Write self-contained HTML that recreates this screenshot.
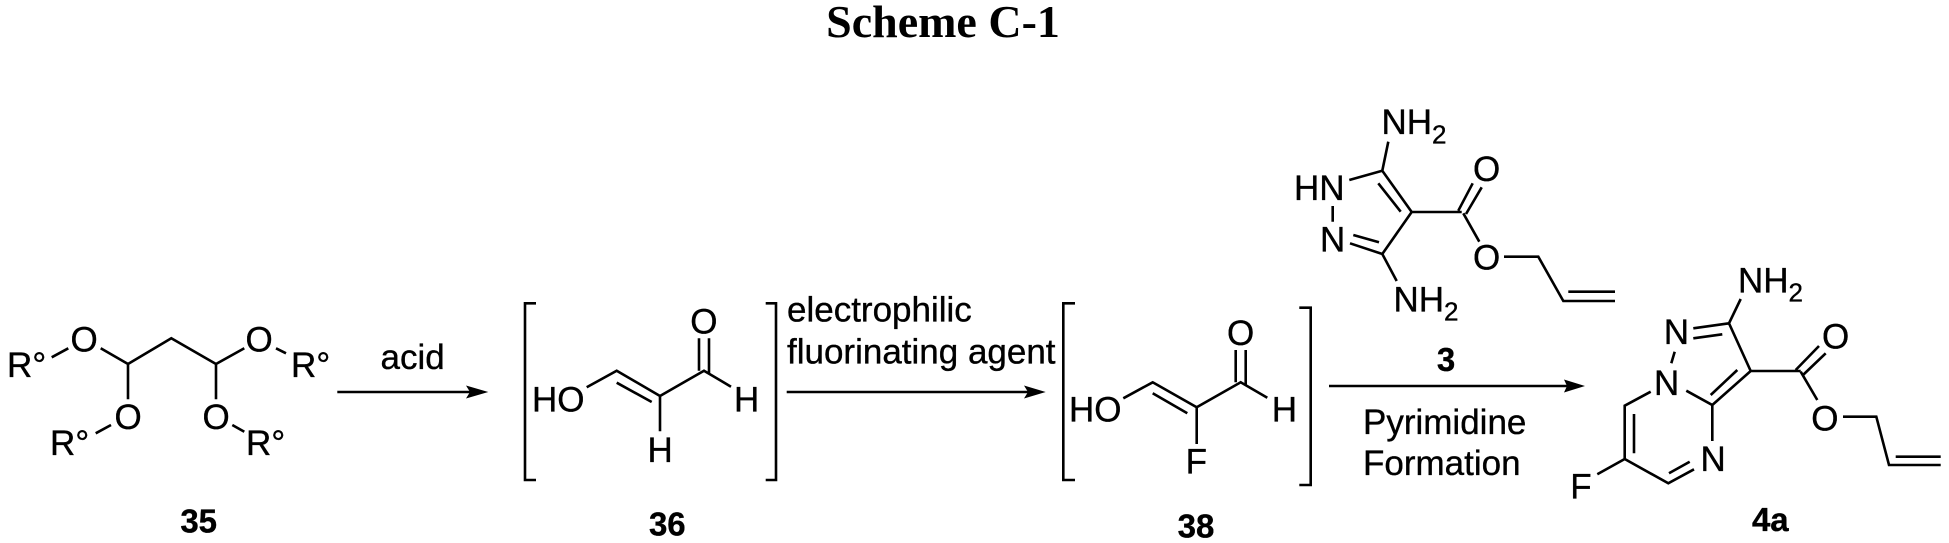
<!DOCTYPE html>
<html><head><meta charset="utf-8"><style>
html,body{margin:0;padding:0;background:#fff}
svg{display:block}
text{font-family:"Liberation Sans",sans-serif;font-size:35px;fill:#000;stroke:#000;stroke-width:.35px}
.b{font-weight:bold;font-size:33px;text-anchor:middle}
.s{font-size:26px}
.t{font-family:"Liberation Serif",serif;font-weight:bold;font-size:46px;text-anchor:middle;stroke-width:0}
path{fill:none;stroke:#000;stroke-width:2.6;stroke-linejoin:miter}
.a{fill:#000;stroke:none}
</style></head><body>
<svg width="1949" height="543" viewBox="0 0 1949 543" xmlns="http://www.w3.org/2000/svg">
<rect width="1949" height="543" fill="#fff"/>
<text class="t" x="943" y="37">Scheme C-1</text>

<!-- 35 -->
<path d="M51.7 357.3L68.3 348.3M100.7 348.3L128 364L171.3 338.3L216 364L244.3 348.3M276 348.3L286 353.3M128 364V399.3M216 364V399.3M95.7 433.3L111 425M232.3 425L244.3 431.7"/>
<text x="7" y="377">R°</text>
<text x="70.5" y="351.5">O</text>
<text x="245.5" y="351.5">O</text>
<text x="291" y="377">R°</text>
<text x="114.5" y="429">O</text>
<text x="202.5" y="429">O</text>
<text x="50" y="455">R°</text>
<text x="246" y="455">R°</text>
<text class="b" x="198.7" y="532.5">35</text>

<!-- arrow 1 -->
<text x="380.5" y="369">acid</text>
<path d="M337.3 392H470"/>
<polygon class="a" points="466,385.5 488.3,392 466,398.5 470,392"/>

<!-- 36 -->
<path d="M536 303.3H525V480H536M765.7 303.3H776V480H765.7"/>
<text x="532" y="411.3">HO</text>
<path d="M586.7 387.3L616.7 370.7L660 396L704 370.7L731 386.7M616.7 382.7L651.7 402M660 396V431.3M699 338.3V370.7M709 338.3V373"/>
<text x="647.5" y="462">H</text>
<text x="690.3" y="333.5">O</text>
<text x="734" y="411.3">H</text>
<text class="b" x="667.3" y="535.5">36</text>

<!-- arrow 2 -->
<text x="787" y="321.7">electrophilic</text>
<text x="787" y="363.3">fluorinating agent</text>
<path d="M786.7 392H1028"/>
<polygon class="a" points="1024,385.5 1045.7,392 1024,398.5 1028,392"/>

<!-- 38 -->
<path d="M1075 303.3H1063.3V480H1075M1299.3 307.7H1310.7V485H1299.3"/>
<text x="1069" y="421.7">HO</text>
<path d="M1123.3 398.3L1152.7 382.3L1196.7 407.3L1240.7 382.3L1267.3 397.7M1152.7 393.3L1187.3 413.3M1196.7 407.3V444M1235.7 350V382.3M1245.7 350V385"/>
<text x="1185.6" y="473.3">F</text>
<text x="1227" y="345.2">O</text>
<text x="1271.7" y="421.7">H</text>
<text class="b" x="1196" y="537.5">38</text>

<!-- 3 -->
<text x="1381.5" y="134">NH</text><text class="s" x="1432" y="143.3">2</text>
<path d="M1388.3 141.7L1382.3 170.7L1349.3 180M1382.3 170.7L1411.7 212L1382.3 254L1350 243.3M1378.3 183.3L1400.7 211.7M1353.3 235L1379 242.3M1332.7 206V221.7M1382.3 254L1396.7 281M1411.7 212H1461.7M1458.3 210.7L1472.7 183.3M1466 214L1481.7 187.3M1463.3 213.3L1479.3 241.7M1504 256.7H1538.3L1563.3 301H1615M1568.3 291.7H1615"/>
<text x="1294" y="200">HN</text>
<text x="1320" y="251.7">N</text>
<text x="1393.5" y="311.7">NH</text><text class="s" x="1444" y="320.7">2</text>
<text x="1473" y="181">O</text>
<text x="1473" y="269.5">O</text>

<!-- arrow 3 -->
<text class="b" x="1446" y="371">3</text>
<path d="M1329 386H1567"/>
<polygon class="a" points="1564,379.5 1585,386 1564,392.5 1567,386"/>
<text x="1363" y="434">Pyrimidine</text>
<text x="1363" y="475">Formation</text>

<!-- 4a -->
<text x="1738" y="292.3">NH</text><text class="s" x="1788.5" y="301.7">2</text>
<path d="M1740.7 299L1729 323.3L1750.7 371L1712.3 405L1686.3 390.7M1693.3 328.3L1729 323.3M1693.3 338.3L1722.3 334.3M1737.3 370L1710.7 395M1674.7 351.7L1671.3 363.3M1712.3 405V441M1694 469.3L1668.3 483.3L1624.7 459V405.7L1650.7 391.7M1689.7 461.7L1669 473.3M1634 453.3V414M1624.7 459L1597.3 474.3M1750.7 371H1800.7M1795.7 370L1819 346M1803 375L1825.7 353.3M1800.7 371.7L1817.3 400M1843 416.7H1876.3L1889 465H1940.7M1895.7 456.7H1940.7"/>
<text x="1663.7" y="344">N</text>
<text x="1654" y="395">N</text>
<text x="1700.5" y="471">N</text>
<text x="1570.3" y="498.3">F</text>
<text x="1822" y="348.5">O</text>
<text x="1811.3" y="430.3">O</text>
<text class="b" x="1770.3" y="531">4a</text>
</svg>
</body></html>
